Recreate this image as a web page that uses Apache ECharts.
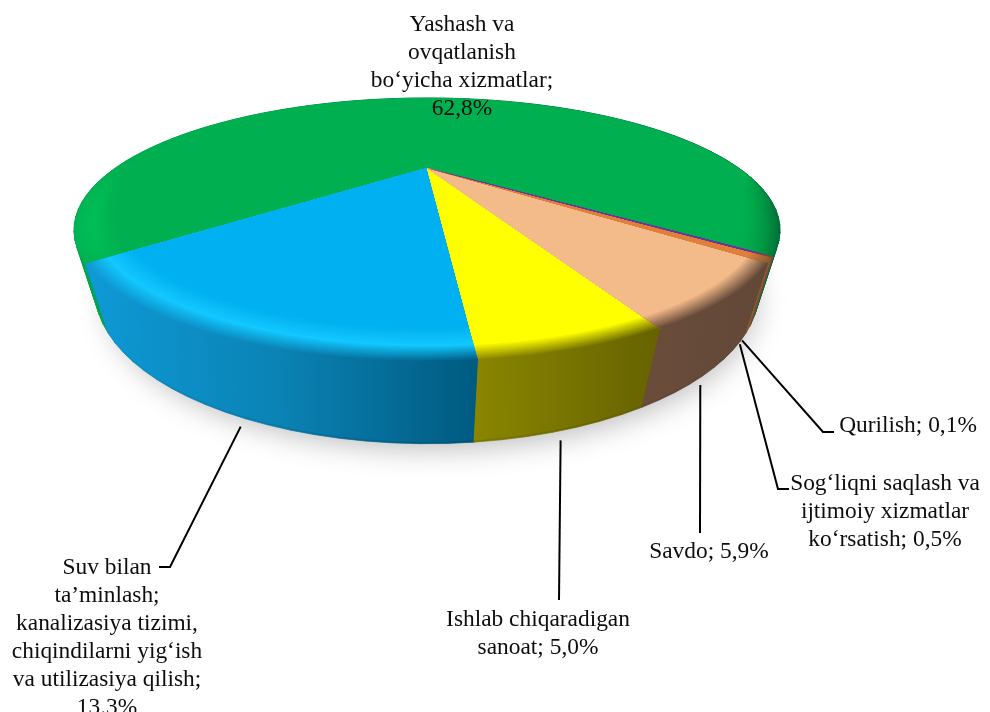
<!DOCTYPE html>
<html lang="uz">
<head>
<meta charset="utf-8">
<title>Pie</title>
<style>html,body{margin:0;padding:0;background:#fff}</style>
<script src="https://cdn.jsdelivr.net/npm/echarts@6/dist/echarts.min.js"></script>
</head>
<body>
<div id="chart" style="width:990px;height:712px;"></div>
<script>
// clockwise order, starting at the orange/green edge on the right
var categories = ['Qurilish', 'Sog‘liqni saqlash va ijtimoiy xizmatlar ko‘rsatish', 'Savdo', 'Ishlab chiqaradigan sanoat', 'Suv bilan ta’minlash; kanalizasiya tizimi, chiqindilarni yig‘ish va utilizasiya qilish', 'Yashash va ovqatlanish bo‘yicha xizmatlar'];
var values = [0.1, 0.5, 5.9, 5.0, 13.3, 62.8];
var valueTexts = ['Qurilish; 0,1%', 'Sog‘liqni saqlash va\nijtimoiy xizmatlar\nko‘rsatish; 0,5%', 'Savdo; 5,9%', 'Ishlab chiqaradigan\nsanoat; 5,0%', 'Suv bilan\nta’minlash;\nkanalizasiya tizimi,\nchiqindilarni yig‘ish\nva utilizasiya qilish;\n13.3%', 'Yashash va\novqatlanish\nbo‘yicha xizmatlar;\n62,8%'];

// flat top colour, rim colour, outer edge colour and side wall colour of each slice
var sliceStyles = [
    {flat: '#7030a0', rim: [[0, '#7030a0'], [1, '#7030a0']], wall: [[0, '#7a4a30'], [1, '#7a4a30']]},
    {flat: '#e08038', rim: [[0, '#e08038'], [1, '#e08038']], wall: [[0, '#8c5a32'], [1, '#8c5a32']]},
    {flat: '#f4bb8a', rim: [[0, '#f4bb8a'], [1, '#f4bb8a']], wall: [[0, '#6a4c3a'], [1, '#624838']]},
    {flat: '#ffff00', rim: [[0, '#ffff00'], [1, '#ffff00']], wall: [[0, '#8a8600'], [1, '#666200']]},
    {flat: '#00b0f0', rim: [[0, '#12c8ff'], [1, '#12c8ff']], wall: [[0, '#0e9ad6'], [0.5, '#0a82b4'], [1, '#005a80']]},
    {flat: '#00b050', rim: [[0, '#00c85a'], [0.07, '#00b050'], [0.94, '#00b050'], [1, '#00903f']],
        edge: [[0, '#00b455'], [0.05, '#00b050'], [0.95, '#00b050'], [1, '#006e36']],
        wall: [[0, '#00a84e'], [0.5, '#008a44'], [1, '#006a34']]}
];

// elbow of the leader line and text position (centre of the first line)
var labelSpots = [
    {elbow: [[823, 432], [834, 432]], x: 908, y: 426},
    {elbow: [[778, 489], [789, 489]], x: 885, y: 484},
    {elbow: [[700, 533]], x: 709, y: 552},
    {elbow: [[559, 600]], x: 538, y: 620},
    {elbow: [[170, 567], [159, 567]], x: 107, y: 568},
    {elbow: null, x: 462, y: 25}
];

var startPhi = 52.3; // degrees right of the front point
var cx = 427, cy = 168;
var K = 0.47, A = 102.9, B = 311.6, C = 57, M = 0.05;

function project(phi, r, z) {
    var rad = phi * Math.PI / 180;
    var u = r * Math.sin(rad), v = r * Math.cos(rad);
    var w = 1 - K * v + M * z;
    return [cx + B * u / w, cy + (A * v + C * z) / w];
}

function arc(a, b, r, z) {
    var n = Math.max(2, Math.ceil(Math.abs(b - a) / 1.5));
    var pts = [];
    for (var i = 0; i <= n; i++) {
        pts.push(project(a + (b - a) * i / n, r, z));
    }
    return pts;
}

function sliceRange(idx) {
    var sum = 0, before = 0;
    for (var i = 0; i < values.length; i++) {
        if (i < idx) before += values[i];
        sum += values[i];
    }
    var a = startPhi - before / sum * 360;
    return [a, a - values[idx] / sum * 360];
}

function hex(c) {
    return [parseInt(c.substr(1, 2), 16), parseInt(c.substr(3, 2), 16), parseInt(c.substr(5, 2), 16)];
}
function mix(c1, c2, t) {
    var p = hex(c1), q = hex(c2);
    return 'rgb(' + [0, 1, 2].map(function (i) { return Math.round(p[i] + (q[i] - p[i]) * t); }).join(',') + ')';
}
function toHex(rgb) {
    var m = rgb.match(/\d+/g);
    return '#' + m.map(function (x) { return ('0' + (+x).toString(16)).slice(-2); }).join('');
}

// colour at an offset of a stop list
function stopColor(stops, t) {
    for (var i = 1; i < stops.length; i++) {
        if (t <= stops[i][0]) {
            var s = (t - stops[i - 1][0]) / (stops[i][0] - stops[i - 1][0]);
            return toHex(mix(stops[i - 1][1], stops[i][1], s));
        }
    }
    return stops[stops.length - 1][1];
}

function bandFill(stops1, stops2, t, x0, x1) {
    var offs = {};
    stops1.concat(stops2).forEach(function (s) { offs[s[0]] = 1; });
    var list = Object.keys(offs).map(Number).sort(function (a, b) { return a - b; });
    var cs = list.map(function (o) {
        return {offset: o, color: mix(stopColor(stops1, o), stopColor(stops2, o), t)};
    });
    return new echarts.graphic.LinearGradient(x0, 0, x1, 0, cs, true);
}

function poly(points, fill, stroke) {
    return {type: 'polygon', shape: {points: points}, silent: true,
        style: {fill: fill, stroke: stroke ? fill : null, lineWidth: stroke ? 0.7 : 0}};
}

function renderShadow() {
    return {
        type: 'polygon',
        shape: {points: arc(0, 360, 0.98, 1)},
        style: {fill: '#bbbbbb', shadowColor: 'rgba(0,0,0,0.28)', shadowBlur: 30, shadowOffsetY: 12, shadowOffsetX: 5}
    };
}

// side wall as small quads so the silhouette stays convex at the far left and right
function pushWall(children, a, b, zLow, fill) {
    var n = Math.max(1, Math.ceil(Math.abs(b - a) / 3));
    for (var i = 0; i < n; i++) {
        var p = a + (b - a) * i / n, q = a + (b - a) * (i + 1) / n;
        children.push(poly([project(p, 1, 0), project(q, 1, 0), project(q, 1, zLow), project(p, 1, zLow)], fill, true));
    }
}

function renderSlice(params, api) {
    var idx = api.value(1);
    var range = sliceRange(idx), a = range[0], b = range[1];
    var st = sliceStyles[idx];
    var children = [];
    var top = arc(a, b, 1, 0), low = arc(b, a, 1, 1);
    var xs = top.concat(low).map(function (p) { return p[0]; });
    var x0 = Math.min.apply(null, xs), x1 = Math.max.apply(null, xs) + 0.01;
    var black = [[0, '#000000'], [1, '#000000']];
    var edge = st.edge || st.wall;
    var flatStops = [[0, st.flat], [1, st.flat]];

    pushWall(children, a, b, 1, bandFill(st.wall, black, 0.1, x0, x1));
    pushWall(children, a, b, 0.97, bandFill(st.wall, st.wall, 0, x0, x1));

    // rounded shoulder of the top face: edge colour -> rim highlight -> flat colour
    var i, steps = 9;
    var centre = project(0, 0, 0);
    for (i = 0; i < steps; i++) {
        var r1 = 1 - 0.045 * i / steps;
        children.push(poly([centre].concat(arc(a, b, r1, 0)), bandFill(edge, st.rim, i / steps, x0, x1)));
    }
    for (i = 0; i <= steps; i++) {
        var r2 = 0.955 - 0.055 * i / steps;
        children.push(poly([centre].concat(arc(a, b, r2, 0)), bandFill(st.rim, flatStops, i / steps, x0, x1)));
    }
    return {type: 'group', children: children};
}

function renderLabel(params, api) {
    var idx = api.value(1);
    var range = sliceRange(idx);
    var spot = labelSpots[idx];
    var children = [];
    if (spot.elbow) {
        var p = project((range[0] + range[1]) / 2, 0.982, 1);
        children.push({
            type: 'polyline',
            shape: {points: [[p[0], p[1] + 17]].concat(spot.elbow)},
            style: {stroke: '#000', lineWidth: 2, fill: null},
            silent: true
        });
    }
    children.push({
        type: 'text',
        style: {
            text: valueTexts[idx], x: spot.x, y: spot.y - 14, fill: '#0d0d0d',
            font: '23.4px "Liberation Serif"', align: 'center', verticalAlign: 'top', lineHeight: 28
        },
        silent: true
    });
    return {type: 'group', children: children};
}

var rows = values.map(function (v, i) { return {name: categories[i], value: [v, i]}; });
// the large slice goes down first so the small ones sit on top of it
var drawRows = rows.slice().reverse();

var chart = echarts.init(document.getElementById('chart'));
chart.setOption({
    backgroundColor: '#fff',
    animation: false,
    series: [
        {type: 'custom', coordinateSystem: 'none', silent: true, data: [[1]], renderItem: renderShadow},
        {type: 'custom', coordinateSystem: 'none', silent: true, data: drawRows, renderItem: renderSlice},
        {type: 'custom', coordinateSystem: 'none', silent: true, data: rows, renderItem: renderLabel}
    ]
});
</script>
</body>
</html>
